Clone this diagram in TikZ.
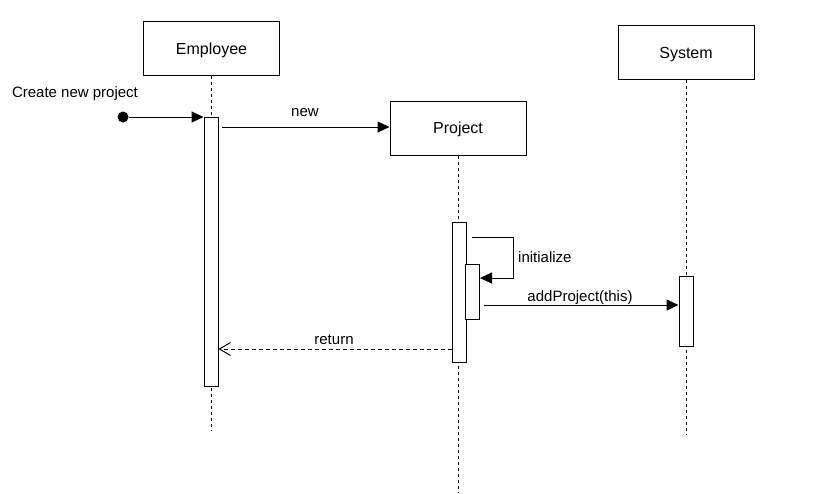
\documentclass[tikz,border=0pt]{standalone}
\usepackage{fontspec}
\setmainfont{Liberation Sans}
\usepackage{xcolor}
\definecolor{Ink}{RGB}{0,0,0}
\usepackage{tikz}
\usetikzlibrary{arrows.meta}
\usetikzlibrary{positioning}
\tikzstyle{Actor}=[draw=Ink,line width=1pt,fill=white,minimum width=136pt,
minimum height=54pt,inner sep=0pt,text depth=0pt,
font=\fontsize{16}{19}\selectfont]
\tikzstyle{Bar}=[draw=Ink,line width=1pt,fill=white,minimum width=14pt,
inner sep=0pt]
\tikzstyle{Life}=[draw=Ink,line width=1pt,dash pattern=on 3pt off 3pt]
\tikzstyle{Msg}=[draw=Ink,line width=1pt,-{Triangle[length=12pt,width=11pt]}]
\tikzstyle{Ret}=[draw=Ink,line width=1pt,dash pattern=on 4pt off 3pt,
-{Straight Barb[length=11pt,width=13pt]}]
\tikzstyle{Lbl}=[font=\fontsize{15}{18}\selectfont,inner sep=0pt]

\begin{document}
\begin{tikzpicture}[x=1pt,y=1pt]
        \useasboundingbox(0,0)rectangle(819,-493);
        \node[Actor](Employee)at(211.5,-48.5){Employee};
        \node[Actor](Project)at(458.0,-128.0){Project};
        \node[Actor](System)at(686.0,-52.5){System};
        \coordinate(EmployeeEnd)at(211.5,-431);
        \coordinate(ProjectEnd)at(458.0,-492);
        \coordinate(SystemEnd)at(686.0,-435);
        \draw[Life](Employee)--(EmployeeEnd);
        \draw[Life](Project)--(ProjectEnd);
        \draw[Life](System)--(SystemEnd);
        \node[Bar,minimum height=269pt](ActE)at(211.0,-251.5){};
        \node[Bar,minimum height=140pt](ActP)at(459.0,-292.0){};
        \node[Bar,minimum height=55pt](ActPi)at(472.5,-291.5){};
        \node[Bar,minimum height=70pt](ActS)at(686.0,-311.0){};
        \node[circle,fill=Ink,inner sep=0pt,minimum size=11pt](Start)
            at(123.0,-117.0){};
        \node[Lbl](StartLbl)at(75.0,-94.0){Create new project};
        \draw[Msg](Start)--(Start-|ActE.west);
        \coordinate(NewA)at(222.0,-127.0);
        \draw[Msg](NewA)--(NewA-|Project.west);
        \node[Lbl](NewLbl)at(305.0,-112.5){new};
        \coordinate(InitA)at(472.0,-237.0);
        \coordinate(InitB)at(513.0,-237.0);
        \coordinate(InitC)at(513.0,-278.0);
        \draw[Msg](InitA)--(InitB)--(InitC)--(InitC-|ActPi.east);
        \node[Lbl,anchor=west](InitLbl)at(518.0,-257.5){initialize};
        \coordinate(AddA)at(484.0,-305.0);
        \draw[Msg](AddA)--(AddA-|ActS.west);
        \node[Lbl](AddLbl)at(580.0,-297.5){addProject(this)};
        \coordinate(RetA)at(ActP.west|-0,-349.0);
        \draw[Ret](RetA)--(RetA-|ActE.east);
        \node[Lbl](RetLbl)at(334.0,-339.5){return};
    \end{tikzpicture}
\end{document}
